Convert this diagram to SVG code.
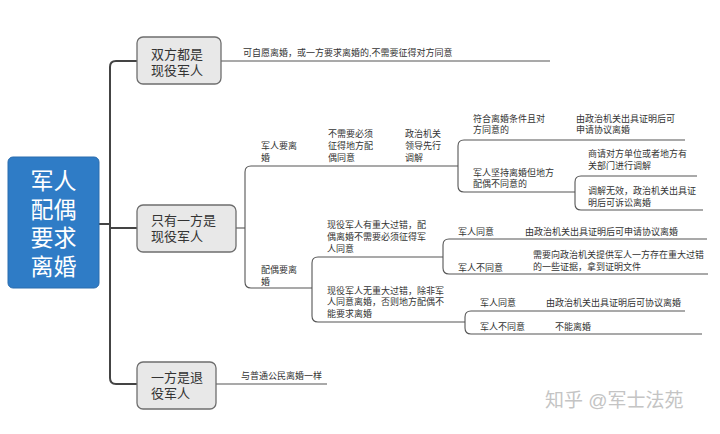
<svg xmlns="http://www.w3.org/2000/svg" width="720" height="434" viewBox="0 0 720 434">
<style>
  text { font-family: "Liberation Sans", "Noto Sans CJK SC", sans-serif; }
  .root-box { fill: #2F7CC6; stroke: #2A6CAE; stroke-width: 1; }
  .root-txt { fill: #ffffff; font-size: 23px; text-anchor: middle; }
  .box { fill: #E8E8E8; stroke: #6E6E6E; stroke-width: 1.3; }
  .box-txt { fill: #333333; font-size: 13px; }
  .small { fill: #333333; font-size: 9px; }
  .trunk { fill: none; stroke: #444444; stroke-width: 2; }
  .main { fill: none; stroke: #8C8C8C; stroke-width: 1.5; }
  .sub { fill: none; stroke: #555555; stroke-width: 1.1; }
  .wm { fill: #C4C4C4; font-size: 19px; }
</style>

<g id="connectors">
  <path class="trunk" d="M99,224 H110"/>
  <path class="trunk" d="M137,61 H116 Q110,61 110,67 V378 Q110,384 116,384 H137"/>
  <path class="trunk" d="M110,228 H137"/>
  <path class="main" d="M221,61 H550"/>
  <path class="main" d="M216,384 H327"/>
  <path class="sub" d="M236,228 H245"/>
  <path class="sub" d="M458,166 H251 Q245,166 245,172 V282 Q245,288 251,288 H312"/>
  <path class="sub" d="M685,140 H464 Q458,140 458,146 V186 Q458,192 464,192 H575"/>
  <path class="sub" d="M697,176 H581 Q575,176 575,182 V204 Q575,210 581,210 H703"/>
  <path class="sub" d="M443,257 H318 Q312,257 312,263 V316 Q312,322 318,322 H465"/>
  <path class="sub" d="M707,239 H449 Q443,239 443,245 V268 Q443,274 449,274 H708"/>
  <path class="sub" d="M685,311 H471 Q465,311 465,317 V328 Q465,334 471,334 H702"/>
</g>

<g id="root">
  <rect class="root-box" x="8" y="157" width="91" height="131" rx="5"/>
  <text class="root-txt" x="53.5" y="189">军人</text>
  <text class="root-txt" x="53.5" y="217.5">配偶</text>
  <text class="root-txt" x="53.5" y="246">要求</text>
  <text class="root-txt" x="53.5" y="274.5">离婚</text>
</g>

<g id="both-active">
  <rect class="box" x="137" y="37" width="84" height="47" rx="6"/>
  <text class="box-txt" x="151" y="58.5">双方都是</text>
  <text class="box-txt" x="151" y="74.5">现役军人</text>
  <text class="small" x="243" y="56">可自愿离婚，或一方要求离婚的,不需要征得对方同意</text>
</g>

<g id="one-active">
  <rect class="box" x="137" y="205" width="99" height="47" rx="6"/>
  <text class="box-txt" x="151" y="224.5">只有一方是</text>
  <text class="box-txt" x="151" y="241">现役军人</text>
</g>

<g id="soldier-wants">
  <text class="small" x="261" y="148.5">军人要离</text>
  <text class="small" x="261" y="160.5">婚</text>
  <text class="small" x="328" y="136.5">不需要必须</text>
  <text class="small" x="328" y="148.5">征得地方配</text>
  <text class="small" x="328" y="160.5">偶同意</text>
  <text class="small" x="405" y="136.5">政治机关</text>
  <text class="small" x="405" y="148.5">领导先行</text>
  <text class="small" x="405" y="160.5">调解</text>
</g>

<g id="agree-branch">
  <text class="small" x="473" y="121.5">符合离婚条件且对</text>
  <text class="small" x="473" y="133">方同意的</text>
  <text class="small" x="576" y="121.5">由政治机关出具证明后可</text>
  <text class="small" x="576" y="133">申请协议离婚</text>
</g>

<g id="insist-branch">
  <text class="small" x="473" y="175.5">军人坚持离婚但地方</text>
  <text class="small" x="473" y="187">配偶不同意的</text>
  <text class="small" x="588" y="156.5">商请对方单位或者地方有</text>
  <text class="small" x="588" y="168.5">关部门进行调解</text>
  <text class="small" x="588" y="193.5">调解无效，政治机关出具证</text>
  <text class="small" x="588" y="205.5">明后可诉讼离婚</text>
</g>

<g id="spouse-wants">
  <text class="small" x="261" y="272.5">配偶要离</text>
  <text class="small" x="261" y="284.5">婚</text>
</g>

<g id="major-fault">
  <text class="small" x="327" y="227.5">现役军人有重大过错，配</text>
  <text class="small" x="327" y="239.5">偶离婚不需要必须征得军</text>
  <text class="small" x="327" y="251.5">人同意</text>
  <text class="small" x="458" y="234.5">军人同意</text>
  <text class="small" x="525" y="234.5">由政治机关出具证明后可申请协议离婚</text>
  <text class="small" x="458" y="270.5">军人不同意</text>
  <text class="small" x="533" y="257.5">需要向政治机关提供军人一方存在重大过错</text>
  <text class="small" x="533" y="269.5">的一些证据，拿到证明文件</text>
</g>

<g id="no-fault">
  <text class="small" x="327" y="293.5">现役军人无重大过错，除非军</text>
  <text class="small" x="327" y="305">人同意离婚，否则地方配偶不</text>
  <text class="small" x="327" y="316.5">能要求离婚</text>
  <text class="small" x="480" y="305.5">军人同意</text>
  <text class="small" x="546" y="305.5">由政治机关出具证明后可协议离婚</text>
  <text class="small" x="480" y="329.5">军人不同意</text>
  <text class="small" x="555" y="329.5">不能离婚</text>
</g>

<g id="one-retired">
  <rect class="box" x="137" y="362" width="79" height="47" rx="6"/>
  <text class="box-txt" x="151" y="382">一方是退</text>
  <text class="box-txt" x="151" y="398">役军人</text>
  <text class="small" x="241" y="379">与普通公民离婚一样</text>
</g>

<text class="wm" x="545" y="407">知乎 @军士法苑</text>
</svg>
